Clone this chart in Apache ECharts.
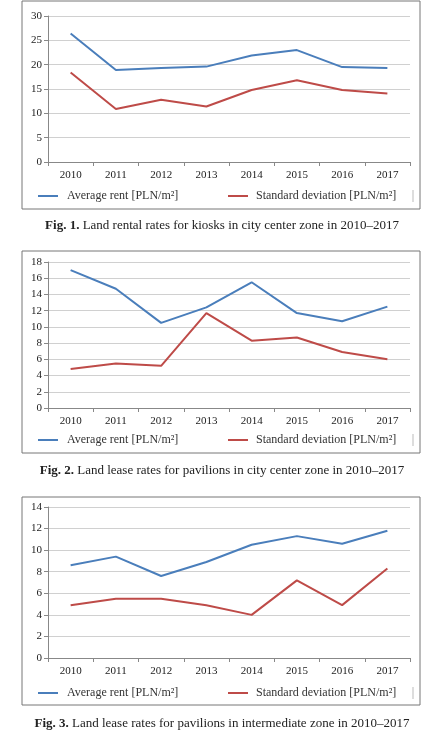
<!DOCTYPE html>
<html><head><meta charset="utf-8">
<script src="https://cdn.jsdelivr.net/npm/echarts@6/dist/echarts.min.js"></script>
<style>html,body{margin:0;padding:0;background:#fff}#c{width:437px;height:741px}</style>
</head><body><div id="c"></div>
<script>
const years = ['2010','2011','2012','2013','2014','2015','2016','2017'];
const avg1 = [26.4, 18.9, 19.3, 19.6, 21.9, 23.0, 19.5, 19.3];
const sd1  = [18.4, 10.9, 12.8, 11.4, 14.8, 16.8, 14.8, 14.1];
const avg2 = [17.0, 14.7, 10.5, 12.4, 15.5, 11.7, 10.7, 12.5];
const sd2  = [4.8, 5.5, 5.2, 11.7, 8.3, 8.7, 6.9, 6.0];
const avg3 = [8.6, 9.4, 7.6, 8.9, 10.5, 11.3, 10.6, 11.8];
const sd3  = [4.9, 5.5, 5.5, 4.9, 4.0, 7.2, 4.9, 8.3];
const captions = [['Fig. 1.',' Land rental rates for kiosks in city center zone in 2010–2017'],
                  ['Fig. 2.',' Land lease rates for pavilions in city center zone in 2010–2017'],
                  ['Fig. 3.',' Land lease rates for pavilions in intermediate zone in 2010–2017']];
const legendNames = ['Average rent [PLN/m²]','Standard deviation [PLN/m²]'];
const yMax = [30, 18, 14], yInt = [5, 2, 2];

const FONT = 'Liberation Serif';
const BLUE = '#4a7ebb', RED = '#be4b48';
const layout = [
  {top:16, h:146, frameTop:1, frameBot:209, lab:175, leg:196, cap:226},
  {top:262, h:146, frameTop:251, frameBot:453, lab:421, leg:440, cap:471},
  {top:507, h:151, frameTop:497, frameBot:705, lab:671, leg:693, cap:724}
];
const grids=[], xAxes=[], yAxes=[], series=[], graphic=[];
const data=[[avg1,sd1],[avg2,sd2],[avg3,sd3]];
layout.forEach((L,i)=>{
  grids.push({left:48, right:27, top:L.top, height:L.h});
  xAxes.push({type:'category', gridIndex:i, data:years, boundaryGap:true,
    axisLine:{lineStyle:{color:'#888'}}, axisTick:{show:true, interval:0, length:4, lineStyle:{color:'#888'}},
    axisLabel:{fontFamily:FONT, fontSize:11, color:'#222', margin:8}});
  yAxes.push({type:'value', gridIndex:i, min:0, max:yMax[i], interval:yInt[i],
    axisLine:{show:true, lineStyle:{color:'#888'}}, axisTick:{show:true, length:4, lineStyle:{color:'#888'}},
    splitLine:{lineStyle:{color:'#d0d0d0'}},
    axisLabel:{fontFamily:FONT, fontSize:11, color:'#222', margin:6}});
  series.push({type:'line', xAxisIndex:i, yAxisIndex:i, data:data[i][0], symbol:'none', lineStyle:{color:BLUE,width:2}});
  series.push({type:'line', xAxisIndex:i, yAxisIndex:i, data:data[i][1], symbol:'none', lineStyle:{color:RED,width:2}});
  graphic.push({type:'rect', shape:{x:22, y:L.frameTop, width:398, height:L.frameBot-L.frameTop}, style:{fill:null, stroke:'#777', lineWidth:1}});
  graphic.push({type:'line', shape:{x1:38,y1:L.leg,x2:58,y2:L.leg}, style:{stroke:BLUE,lineWidth:2}});
  graphic.push({type:'text', x:67, y:L.leg, style:{text:legendNames[0], font:'12px "'+FONT+'"', fill:'#333', textVerticalAlign:'middle', verticalAlign:'middle'}});
  graphic.push({type:'line', shape:{x1:228,y1:L.leg,x2:248,y2:L.leg}, style:{stroke:RED,lineWidth:2}});
  graphic.push({type:'text', x:256, y:L.leg, style:{text:legendNames[1], font:'12px "'+FONT+'"', fill:'#333', textVerticalAlign:'middle', verticalAlign:'middle'}});
  graphic.push({type:'line', shape:{x1:413,y1:L.leg-6,x2:413,y2:L.leg+6}, style:{stroke:'#bbb',lineWidth:1}});
  graphic.push({type:'text', x:222, y:L.cap, style:{text:'{b|'+captions[i][0]+'}{n|'+captions[i][1]+'}', align:'center', verticalAlign:'middle', textAlign:'center', textVerticalAlign:'middle',
    rich:{b:{fontFamily:FONT,fontWeight:'bold',fontSize:13,fill:'#222',color:'#222'}, n:{fontFamily:FONT,fontSize:13,fill:'#222',color:'#222'}}}});
});
const chart = echarts.init(document.getElementById('c'));
chart.setOption({animation:false, grid:grids, xAxis:xAxes, yAxis:yAxes, series, graphic});
</script></body></html>
